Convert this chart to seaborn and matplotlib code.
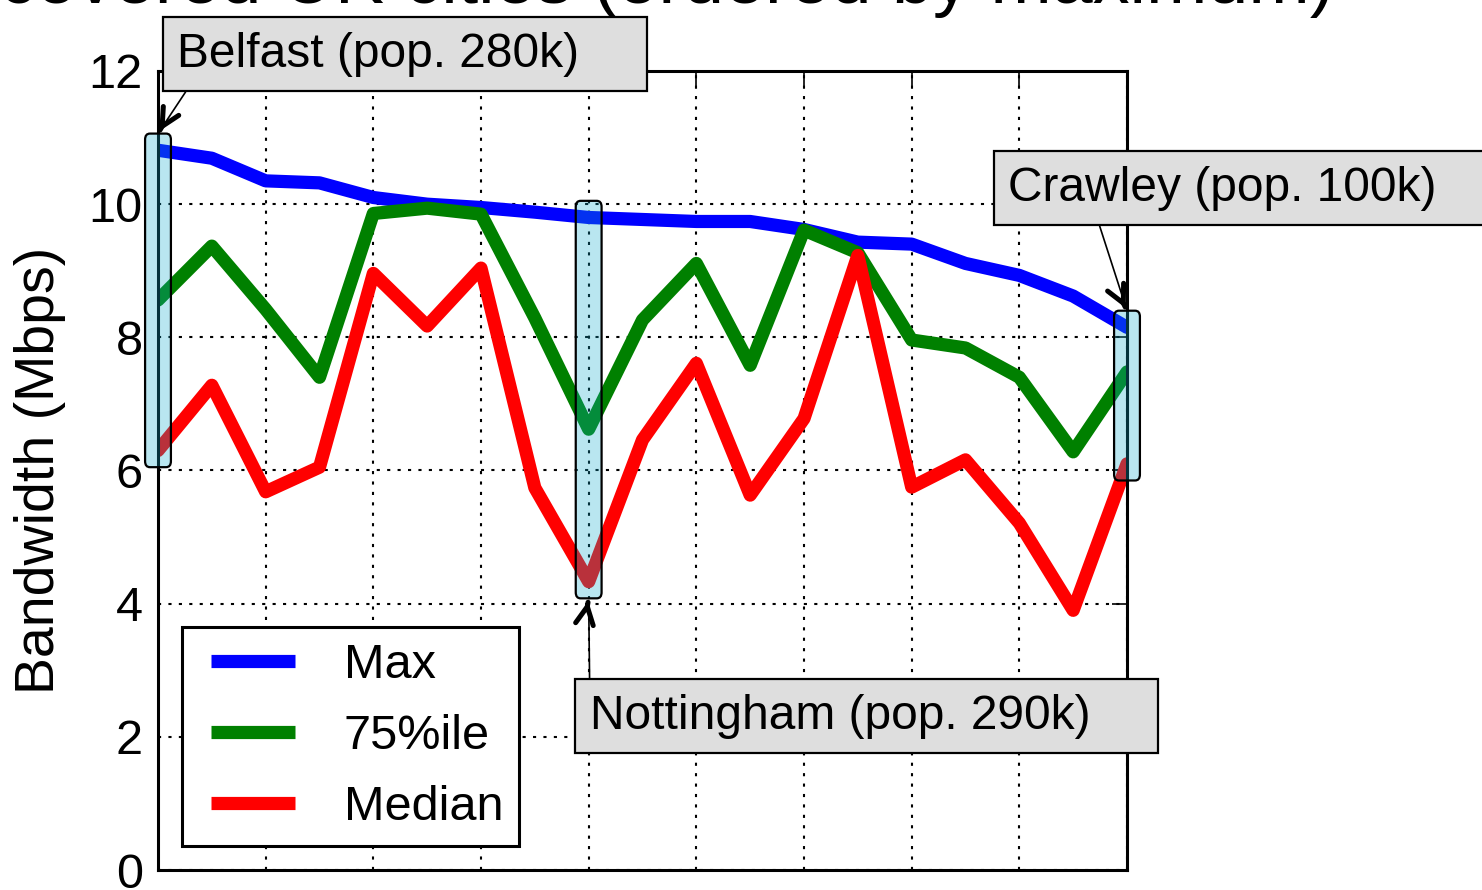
import matplotlib
matplotlib.use("Agg")
import numpy as np
import pandas as pd
import matplotlib.pyplot as plt
from matplotlib.patches import FancyBboxPatch
from matplotlib.lines import Line2D
from matplotlib.legend_handler import HandlerLine2D
import seaborn as sns

# covered UK cities, ranked by maximum bandwidth (Mbps)
city_rank = list(range(19))
max_bw = [10.81, 10.69, 10.35, 10.32, 10.10, 10.00, 9.95, 9.88, 9.80, 9.77,
          9.74, 9.74, 9.62, 9.43, 9.40, 9.11, 8.93, 8.62, 8.15]
p75_bw = [8.56, 9.37, 8.42, 7.40, 9.86, 9.94, 9.85, 8.29, 6.62, 8.26,
          9.11, 7.58, 9.61, 9.27, 7.96, 7.84, 7.40, 6.28, 7.48]
median_bw = [6.30, 7.28, 5.68, 6.05, 8.96, 8.17, 9.04, 5.74, 4.33, 6.46,
             7.61, 5.63, 6.78, 9.23, 5.75, 6.16, 5.21, 3.90, 6.10]
series_names = ["Max", "75%ile", "Median"]
series_colors = ["blue", "green", "red"]

highlight_idx = [0, 8, 18]
highlight_labels = ["Belfast (pop. 280k)", "Nottingham (pop. 290k)", "Crawley (pop. 100k)"]

title = "Bandwidth in covered UK cities (ordered by maximum)"
ylabel = "Bandwidth (Mbps)"

sns.set_style("white")
plt.rcParams["font.family"] = ["Liberation Sans", "DejaVu Sans"]
plt.rcParams.update({"text.color": "black", "axes.labelcolor": "black",
                     "xtick.color": "black", "ytick.color": "black"})

df = pd.DataFrame({"rank": city_rank * 3,
                   "bw": max_bw + p75_bw + median_bw,
                   "stat": sum([[n] * len(city_rank) for n in series_names], [])})

fig = plt.figure(figsize=(14.82, 8.9), dpi=100)
ax = fig.add_axes([158 / 1482, 20 / 890, 969 / 1482, 799 / 890])

sns.lineplot(data=df, x="rank", y="bw", hue="stat", hue_order=series_names,
             palette=series_colors, linewidth=9.5, ax=ax, legend=True)

ax.set_xlim(0, 18)
ax.set_ylim(0, 12)
ax.set_xticks(range(0, 19, 2))
ax.set_xticklabels([])
ax.set_yticks(range(0, 13, 2))
ax.set_xlabel("")
ax.set_ylabel(ylabel, fontsize=40, labelpad=16)
ax.tick_params(direction="in", length=11, width=1.2, top=True, right=True,
               labelsize=35, pad=11)
ax.grid(True, color="black", linestyle=(0, (1.5, 3.5)), linewidth=1.5)
for s in ax.spines.values():
    s.set_linewidth(2.2)
    s.set_color("black")

ax.set_title(title, fontsize=53, x=(1334 - 158) / 969, ha="right", pad=49)

# highlighted cities: translucent boxes spanning median..max
pad_y, half_w = 0.25, 0.24
box_face = (0.055, 0.67, 0.80, 0.29)
for i in highlight_idx:
    lo = min(median_bw[i], p75_bw[i], max_bw[i]) - pad_y
    hi = max(median_bw[i], p75_bw[i], max_bw[i]) + pad_y
    box = FancyBboxPatch((i - half_w, lo), 2 * half_w, hi - lo,
                         boxstyle="round,pad=0,rounding_size=0.09",
                         facecolor=box_face, edgecolor="black", linewidth=1.6,
                         zorder=5, clip_on=False)
    ax.add_patch(box)

# label placement: (text x, text y, arrow to top?, relpos)
label_layout = [(0.36, 12.25, True, (0.04, 0.0)),
                (8.02, 2.31, False, (0.0, 1.0)),
                (15.79, 10.24, True, (0.18, 0.0))]
notes = []
for i, name, (tx, ty, to_top, rel) in zip(highlight_idx, highlight_labels, label_layout):
    end = max(max_bw[i], p75_bw[i]) + pad_y if to_top else median_bw[i] - pad_y
    ann = ax.annotate(name + "    ", xy=(i, end), xytext=(tx, ty),
                      ha="left", va="center", fontsize=34.5, zorder=6,
                      bbox=dict(boxstyle="square,pad=0.3", facecolor="#dedede",
                                edgecolor="black", linewidth=1.6),
                      arrowprops=dict(arrowstyle="-", color="black", lw=1.2,
                                      relpos=rel, shrinkA=0, shrinkB=2),
                      annotation_clip=False)
    notes.append((ann, rel))

# heavier arrow heads on the thin leader lines
fig.canvas.draw()
for ann, rel in notes:
    bb = ann.get_bbox_patch().get_window_extent()
    tail = np.array([bb.x0 + rel[0] * bb.width, bb.y0 + rel[1] * bb.height])
    tip = ax.transData.transform(ann.xy)
    d = (tail - tip) / np.hypot(*(tail - tip))
    ax.annotate("", xy=ann.xy, xytext=(d[0] * 4, d[1] * 4), textcoords="offset pixels",
                arrowprops=dict(arrowstyle="->", color="black", lw=3.6,
                                mutation_scale=32, shrinkA=0, shrinkB=2),
                annotation_clip=False, zorder=6)

handles, labels = ax.get_legend_handles_labels()
leg = ax.legend(handles, labels, loc="lower left", fontsize=35, handlelength=2.0,
                handletextpad=1.0, labelspacing=0.54, borderpad=0.32,
                fancybox=False, framealpha=1, edgecolor="black",
                handler_map={Line2D: HandlerLine2D(xpad=0.27)})
leg.get_frame().set_linewidth(2.2)
for line in leg.get_lines():
    line.set_linewidth(9.5)
    line.set_solid_capstyle("butt")

fig.savefig("out.png", dpi=100)
